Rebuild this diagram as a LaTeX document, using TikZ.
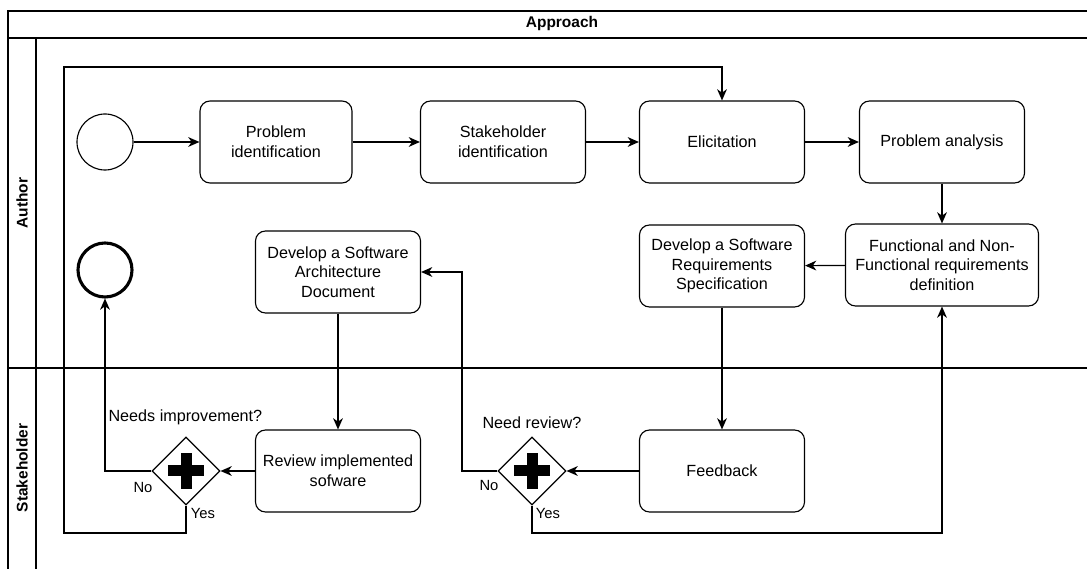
\documentclass[tikz,border=0pt]{standalone}
\usepackage{fontspec}
\setmainfont{Liberation Sans}
\usetikzlibrary{arrows.meta}
\usetikzlibrary{shapes.geometric}

\begin{document}
\begin{tikzpicture}[x=0.025cm, y=-0.025cm, line width=0.8pt,
		task/.style		= {draw, rounded corners=0.25cm, minimum width=4.125cm, minimum height=2.05cm, align=center, font=\fontsize{11.5}{14}\selectfont},
		gate/.style		= {draw, diamond, aspect=1, minimum width=1.7cm, minimum height=1.7cm, inner sep=0pt},
		flow/.style		= {-{Stealth[length=8pt,width=7pt,inset=2.5pt]}},
		question/.style	= {font=\fontsize{11.5}{13.8}\selectfont},
		branch/.style	= {font=\fontsize{10.5}{12}\selectfont},
		lane/.style		= {rotate=90, font=\bfseries\fontsize{11}{13}\selectfont}]
		\useasboundingbox (0,0) rectangle (1087,569);

		% pool and lanes
		\draw (8,569) -- (8,11) -- (1087,11);
		\draw (8,38) -- (1087,38);
		\draw (36,38) -- (36,569);
		\draw (8,368) -- (1087,368);
		\node(pool)		at (562,24)		[font=\bfseries\fontsize{11}{13}\selectfont] {Approach};
		\node(author)	at (22,203)		[lane] {Author};
		\node(stake)	at (22,468)		[lane] {Stakeholder};

		% author lane
		\node(start)	at (105,142)	[draw, circle, minimum size=1.4cm] {};
		\node(probid)	at (276,142)	[task, minimum width=3.8cm] {Problem\\identification};
		\node(stakeid)	at (503,142)	[task] {Stakeholder\\identification};
		\node(elicit)	at (722,142)	[task] {Elicitation};
		\node(analysis)	at (942,142)	[task] {Problem analysis};
		\node(reqdef)	at (942,265)	[task, minimum width=4.825cm] {Functional and Non-\\Functional requirements\\definition};
		\node(srs)		at (722,266)	[task] {Develop a Software\\Requirements\\Specification};
		\node(sad)		at (338,272)	[task] {Develop a Software\\Architecture\\Document};
		\node(finish)	at (105,270)	[draw, circle, line width=2.2pt, minimum size=1.35cm] {};

		% stakeholder lane
		\node(review)	at (338,471)	[task] {Review implemented\\sofware};
		\node(feedback)	at (722,471)	[task] {Feedback};
		\node(gimprove)	at (186,471)	[gate] {};
		\node(greview)	at (532,471)	[gate] {};
		\foreach \g in {gimprove, greview} {
			\draw [line width=2.75mm] ([xshift=-0.45cm]\g.center) -- ([xshift=0.45cm]\g.center);
			\draw [line width=2.75mm] ([yshift=-0.44cm]\g.center) -- ([yshift=0.44cm]\g.center);
		}
		\node(qimprove)	at (108,417)	[question, anchor=west, inner sep=0pt] {Needs improvement?};
		\node(qreview)	at (532,423)	[question] {Need review?};
		\node(noimp)	at (143,487)	[branch] {No};
		\node(yesimp)	at (203,513)	[branch] {Yes};
		\node(norev)	at (489,485)	[branch] {No};
		\node(yesrev)	at (548,513)	[branch] {Yes};

		\draw [flow] (start)	-- (probid);
		\draw [flow] (probid)	-- (stakeid);
		\draw [flow] (stakeid)	-- (elicit);
		\draw [flow] (elicit)	-- (analysis);
		\draw [flow] (analysis)	-- (reqdef);
		\draw [flow] (reqdef)	-- (srs);
		\draw [flow] (srs)		-- (feedback);
		\draw [flow] (feedback)	-- (greview);
		\draw [flow] (greview.west) -| (462,272) -- (sad.east);
		\draw [flow] (greview.south) |- (942,533) -- (reqdef.south);
		\draw [flow] (sad)		-- (review);
		\draw [flow] (review)	-- (gimprove);
		\draw [flow] (gimprove.west) -| (finish.south);
		\draw [flow] (gimprove.south) |- (64,533) |- (722,67) -- (elicit.north);
	\end{tikzpicture}
\end{document}
